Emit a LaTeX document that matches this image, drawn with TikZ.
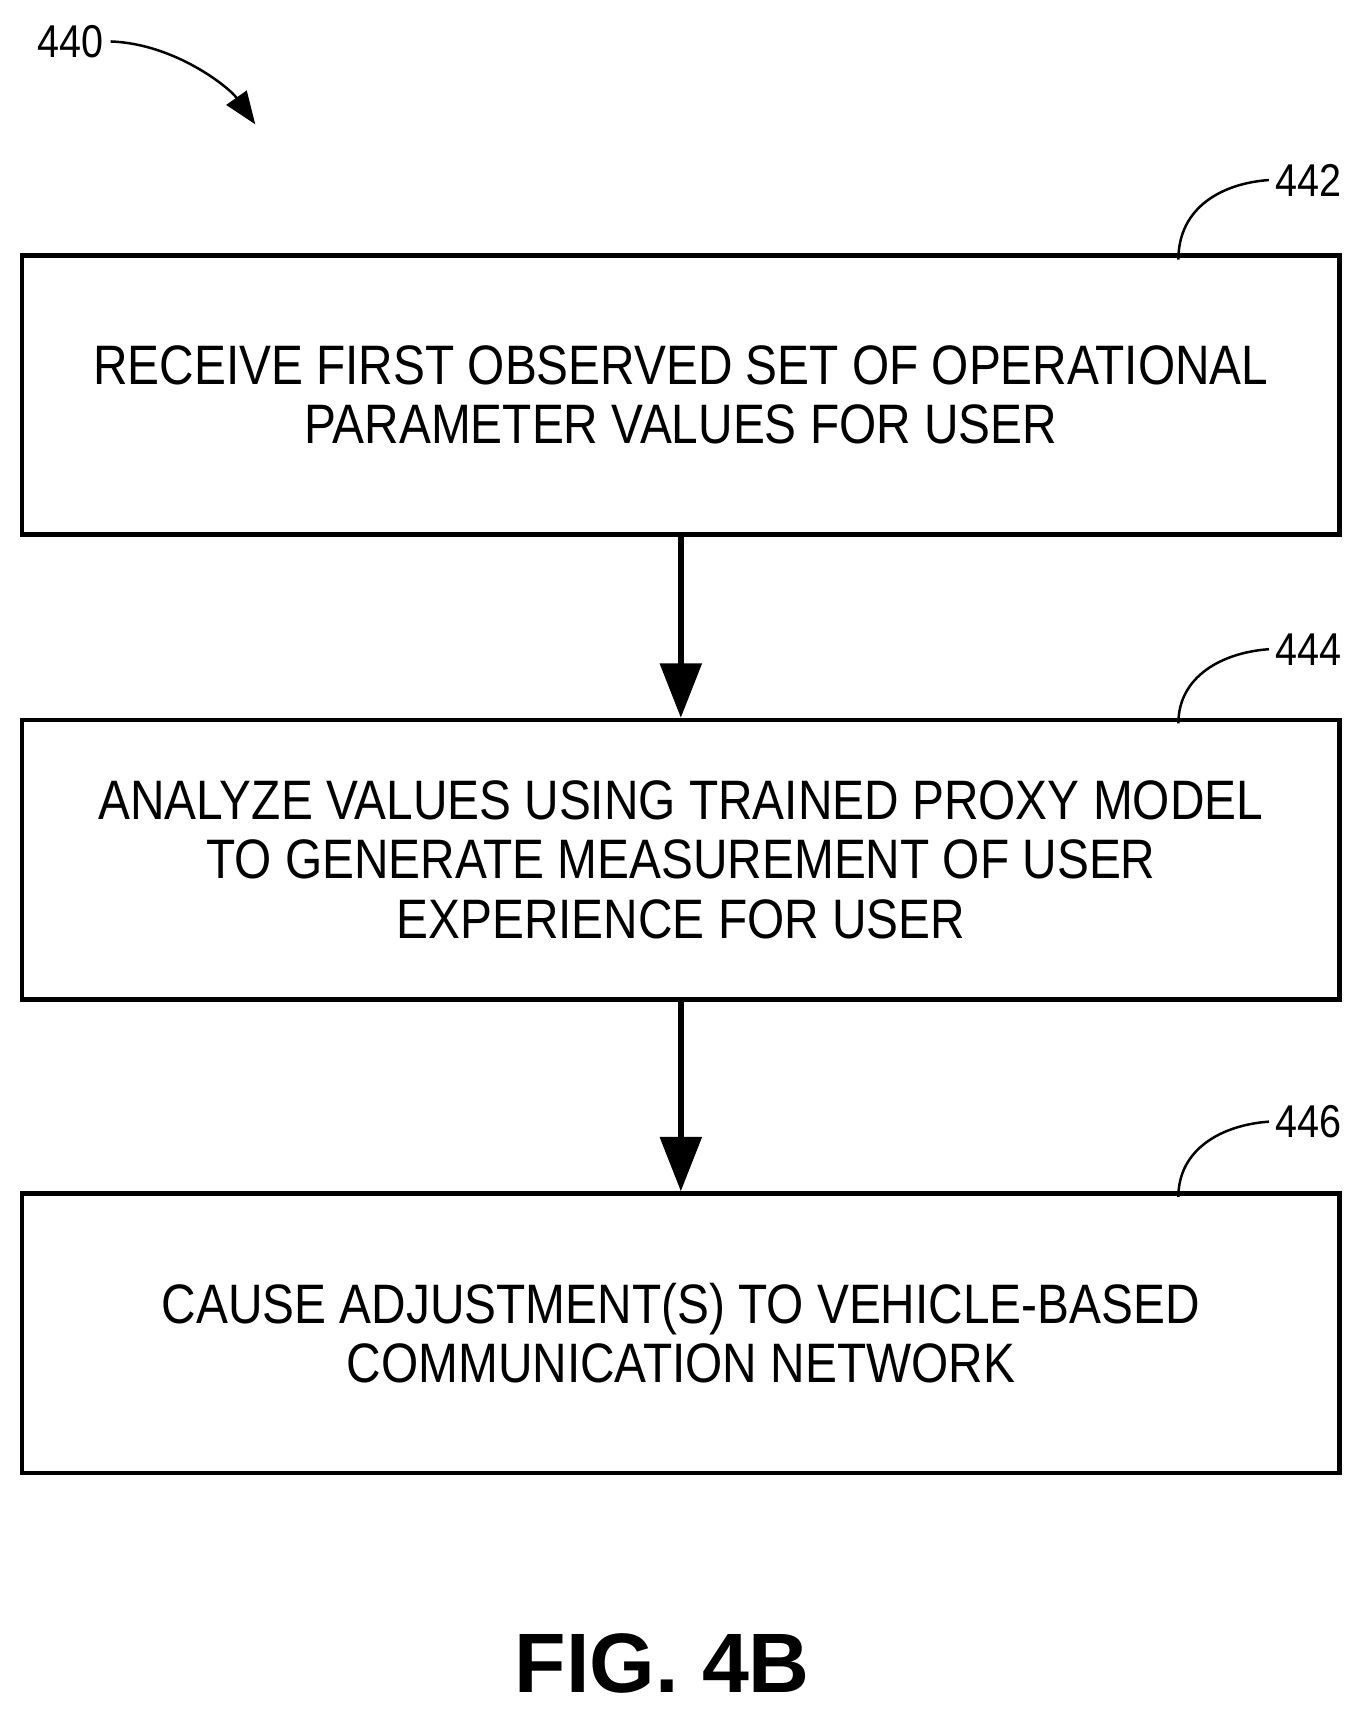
\documentclass[tikz,border=0pt]{standalone}
\usepackage{fontspec}
\setmainfont{Liberation Sans}[FakeStretch=0.86]
\newfontfamily\figfont{Liberation Sans}
\usetikzlibrary{arrows.meta,positioning}
\begin{document}
\begin{tikzpicture}[x=0.02cm,y=-0.02cm,
    flowstep/.style={draw,line width=2.4pt,minimum width=24.16cm,minimum height=5.12cm,align=center,font=\fontsize{29}{31}\selectfont},
    flow/.style={line width=3.2pt,-{Triangle[length=1cm,width=0.75cm]}},
    leader/.style={line width=1.3pt},
    tag/.style={anchor=west,font=\fontsize{24}{26}\selectfont}
  ]
    \useasboundingbox (0,0) rectangle (1250,1570);
    % Flow steps
    \node[flowstep] (s442) at (624,362) {RECEIVE FIRST OBSERVED SET OF OPERATIONAL\\PARAMETER VALUES FOR USER};
    \node[flowstep] (s444) at (624,788) {ANALYZE VALUES USING TRAINED PROXY MODEL\\TO GENERATE MEASUREMENT OF USER\\EXPERIENCE FOR USER};
    \node[flowstep] (s446) at (624,1222) {CAUSE ADJUSTMENT(S) TO VEHICLE-BASED\\COMMUNICATION NETWORK};

    % Connections
    \draw[flow] (s442) -- (s444);
    \draw[flow] (s444) -- (s446);

    % Reference numerals
    \node[tag] (t442) at (1163,165) {442};
    \node[tag] (t444) at (1163,595) {444};
    \node[tag] (t446) at (1163,1028) {446};
    \coordinate (c442) at (1080,238);
    \coordinate (c444) at (1080,663);
    \coordinate (c446) at (1080,1097);
    \draw[leader] (c442) .. controls (1080,190) and (1120,168) .. (t442.west);
    \draw[leader] (c444) .. controls (1080,620) and (1120,598) .. (t444.west);
    \draw[leader] (c446) .. controls (1080,1053) and (1120,1031) .. (t446.west);

    % Figure number
    \node[tag,anchor=center] (t440) at (65,38) {440};
    \coordinate (a440) at (234,114);
    \draw[leader,-{Triangle[length=0.6cm,width=0.45cm]}] (t440.east) .. controls (160,40) and (210,80) .. (a440);
    \node[font=\figfont\fontsize{44}{48}\selectfont\bfseries] (fig) at (607,1525) {FIG. 4B};
\end{tikzpicture}
\end{document}
